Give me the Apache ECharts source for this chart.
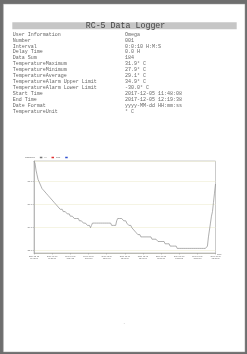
<!DOCTYPE html>
<html>
<head>
<meta charset="utf-8">
<script src="https://cdn.jsdelivr.net/npm/echarts@6/dist/echarts.min.js"></script>
<style>
  html, body { margin: 0; padding: 0; background: #6e6e6e; }
  #chart { width: 247px; height: 354px; }
</style>
</head>
<body>
<div id="chart"></div>
<script>
// header table of the report
var infoLabels = ['User Information', 'Number', 'Interval', 'Delay Time', 'Data Sum',
  'TemperatureMaximum', 'TemperatureMinimum', 'TemperatureAverage',
  'TemperatureAlarm Upper Limit', 'TemperatureAlarm Lower Limit',
  'Start Time', 'End Time', 'Date Format', 'TemperatureUnit'];
var infoValues = ['Omega', '001', '0:0:10 H:M:S', '0.0 H', '184',
  '31.9° C', '27.9° C', '29.1° C', '34.9° C', '-30.0° C',
  '2017-12-05 11:48:08', '2017-12-05 12:19:38', 'yyyy-MM-dd HH:mm:ss', '° C'];

var legendNames = ['Channel1', 'Hi', 'Low'];

// one reading every 10 s
var startTime = '2017-12-05 11:48:08';
var stepSeconds = 10;

var temperature = [
  31.9, 31.8, 31.5, 31.3, 31.1, 31.0, 30.9, 30.8, 30.7, 30.7,
  30.6, 30.6, 30.5, 30.5, 30.4, 30.4, 30.3, 30.3, 30.2, 30.2,
  30.1, 30.1, 30.0, 30.0, 29.9, 29.9, 29.8, 29.8, 29.8, 29.7,
  29.7, 29.7, 29.7, 29.6, 29.6, 29.6, 29.5, 29.5, 29.5, 29.5,
  29.4, 29.4, 29.4, 29.4, 29.4, 29.3, 29.3, 29.3, 29.3, 29.2,
  29.2, 29.2, 29.2, 29.1, 29.1, 29.1, 29.0, 29.1, 29.2, 29.2,
  29.2, 29.2, 29.2, 29.2, 29.2, 29.2, 29.2, 29.2, 29.2, 29.2,
  29.2, 29.2, 29.2, 29.2, 29.2, 29.2, 29.2, 29.1, 29.1, 29.1,
  29.1, 29.1, 29.3, 29.4, 29.4, 29.4, 29.4, 29.4, 29.4, 29.3,
  29.3, 29.3, 29.2, 29.2, 29.1, 29.1, 29.1, 29.0, 29.0, 28.9,
  28.9, 28.8, 28.8, 28.7, 28.7, 28.7, 28.6, 28.6, 28.6, 28.6,
  28.6, 28.6, 28.6, 28.6, 28.6, 28.6, 28.6, 28.5, 28.5, 28.5,
  28.5, 28.5, 28.5, 28.4, 28.4, 28.4, 28.4, 28.4, 28.4, 28.4,
  28.3, 28.3, 28.3, 28.3, 28.3, 28.2, 28.2, 28.2, 28.2, 28.2,
  28.2, 28.2, 28.1, 28.1, 28.1, 28.1, 28.1, 28.1, 28.1, 28.1,
  28.1, 28.1, 28.1, 28.1, 28.1, 28.1, 28.1, 28.1, 28.1, 28.1,
  28.1, 28.1, 28.1, 28.1, 28.1, 28.1, 28.1, 28.1, 28.1, 28.1,
  28.1, 28.1, 28.2, 28.6, 28.9, 29.2, 29.5, 29.7, 30.1, 30.5,
  30.9
];

var yMin = 27.9;
var yMax = 31.9;

function pad(n) { return (n < 10 ? '0' : '') + n; }

// time categories from the start time and the logging interval
var times = [];
var t0 = new Date(startTime.replace(' ', 'T'));
for (var i = 0; i < temperature.length; i++) {
  var d = new Date(t0.getTime() + i * stepSeconds * 1000);
  times.push(d.getFullYear() + '-' + pad(d.getMonth() + 1) + '-' + pad(d.getDate()) + '\n' +
    pad(d.getHours()) + ':' + pad(d.getMinutes()) + ':' + pad(d.getSeconds()));
}

var mono = '"Liberation Mono", "DejaVu Sans Mono", monospace';
var graphics = [
  // the page
  { type: 'rect', z: -5, shape: { x: 3.3, y: 4, width: 241.7, height: 348 },
    style: { fill: '#fff', stroke: '#9a9a9a', lineWidth: 0.5 } },
  // title band
  { type: 'rect', z: -4, shape: { x: 12.3, y: 22.3, width: 224.4, height: 7 },
    style: { fill: '#c6c6c6' } },
  { type: 'text', z: 1, x: 125.5, y: 26, style: {
      text: 'RC-5 Data Logger', font: '8.3px ' + mono, fill: '#444',
      align: 'center', verticalAlign: 'middle' } },
  // page number
  { type: 'text', z: 1, x: 124.3, y: 323.5, style: {
      text: '1', font: '2.5px ' + mono, fill: '#888',
      align: 'center', verticalAlign: 'middle' } }
];
infoLabels.forEach(function (label, k) {
  var y = 34.3 + k * 5.95;
  graphics.push({ type: 'text', z: 1, x: 12.7, y: y, style: {
    text: label, font: '5px ' + mono, fill: '#666', align: 'left', verticalAlign: 'middle' } });
  graphics.push({ type: 'text', z: 1, x: 125, y: y, style: {
    text: infoValues[k], font: '5px ' + mono, fill: '#666', align: 'left', verticalAlign: 'middle' } });
});

var chart = echarts.init(document.getElementById('chart'), null, { renderer: 'canvas' });
chart.setOption({
  animation: false,
  backgroundColor: 'transparent',
  graphic: graphics,
  legend: {
    data: legendNames,
    left: 25, top: 156.5,
    align: 'right',
    icon: 'rect',
    itemWidth: 2.5, itemHeight: 1.5, itemGap: 2,
    textStyle: { fontSize: 2.3, color: '#555', padding: [0, 0, 0, 0] },
    padding: 0
  },
  grid: {
    left: 34, right: 31.5, top: 161, bottom: 101,
    show: true, borderColor: '#a8a8a8', borderWidth: 0.6, backgroundColor: 'transparent'
  },
  xAxis: {
    type: 'category',
    data: times,
    boundaryGap: false,
    name: 'Time',
    nameGap: 1.5,
    nameTextStyle: { fontSize: 2.2, color: '#666', verticalAlign: 'top' },
    axisLine: { lineStyle: { color: '#999', width: 0.6 } },
    axisTick: { interval: 17, length: 1.5, lineStyle: { color: '#999', width: 0.5 } },
    axisLabel: { interval: 17, fontSize: 2, lineHeight: 2.6, color: '#666', margin: 2 },
    splitLine: { show: false }
  },
  yAxis: {
    type: 'value',
    min: yMin, max: yMax, splitNumber: 4,
    axisLine: { show: true, lineStyle: { color: '#999', width: 0.6 } },
    axisTick: { show: true, length: 1.5, lineStyle: { color: '#999', width: 0.5 } },
    axisLabel: {
      fontSize: 2.3, color: '#666', margin: 2,
      showMinLabel: false, showMaxLabel: false,
      formatter: function (v) { return v.toFixed(1); }
    },
    splitLine: { lineStyle: { color: '#efedd2', width: 0.6 } }
  },
  series: [
    { name: legendNames[0], type: 'line', data: temperature, symbol: 'none',
      itemStyle: { color: '#777' }, lineStyle: { color: '#8c8c8c', width: 0.7 } },
    { name: legendNames[1], type: 'line', data: [], symbol: 'none',
      itemStyle: { color: '#e03030' } },
    { name: legendNames[2], type: 'line', data: [], symbol: 'none',
      itemStyle: { color: '#3050d0' } }
  ]
});

window.addEventListener('resize', function () {
  chart.resize();
});
</script>
</body>
</html>
